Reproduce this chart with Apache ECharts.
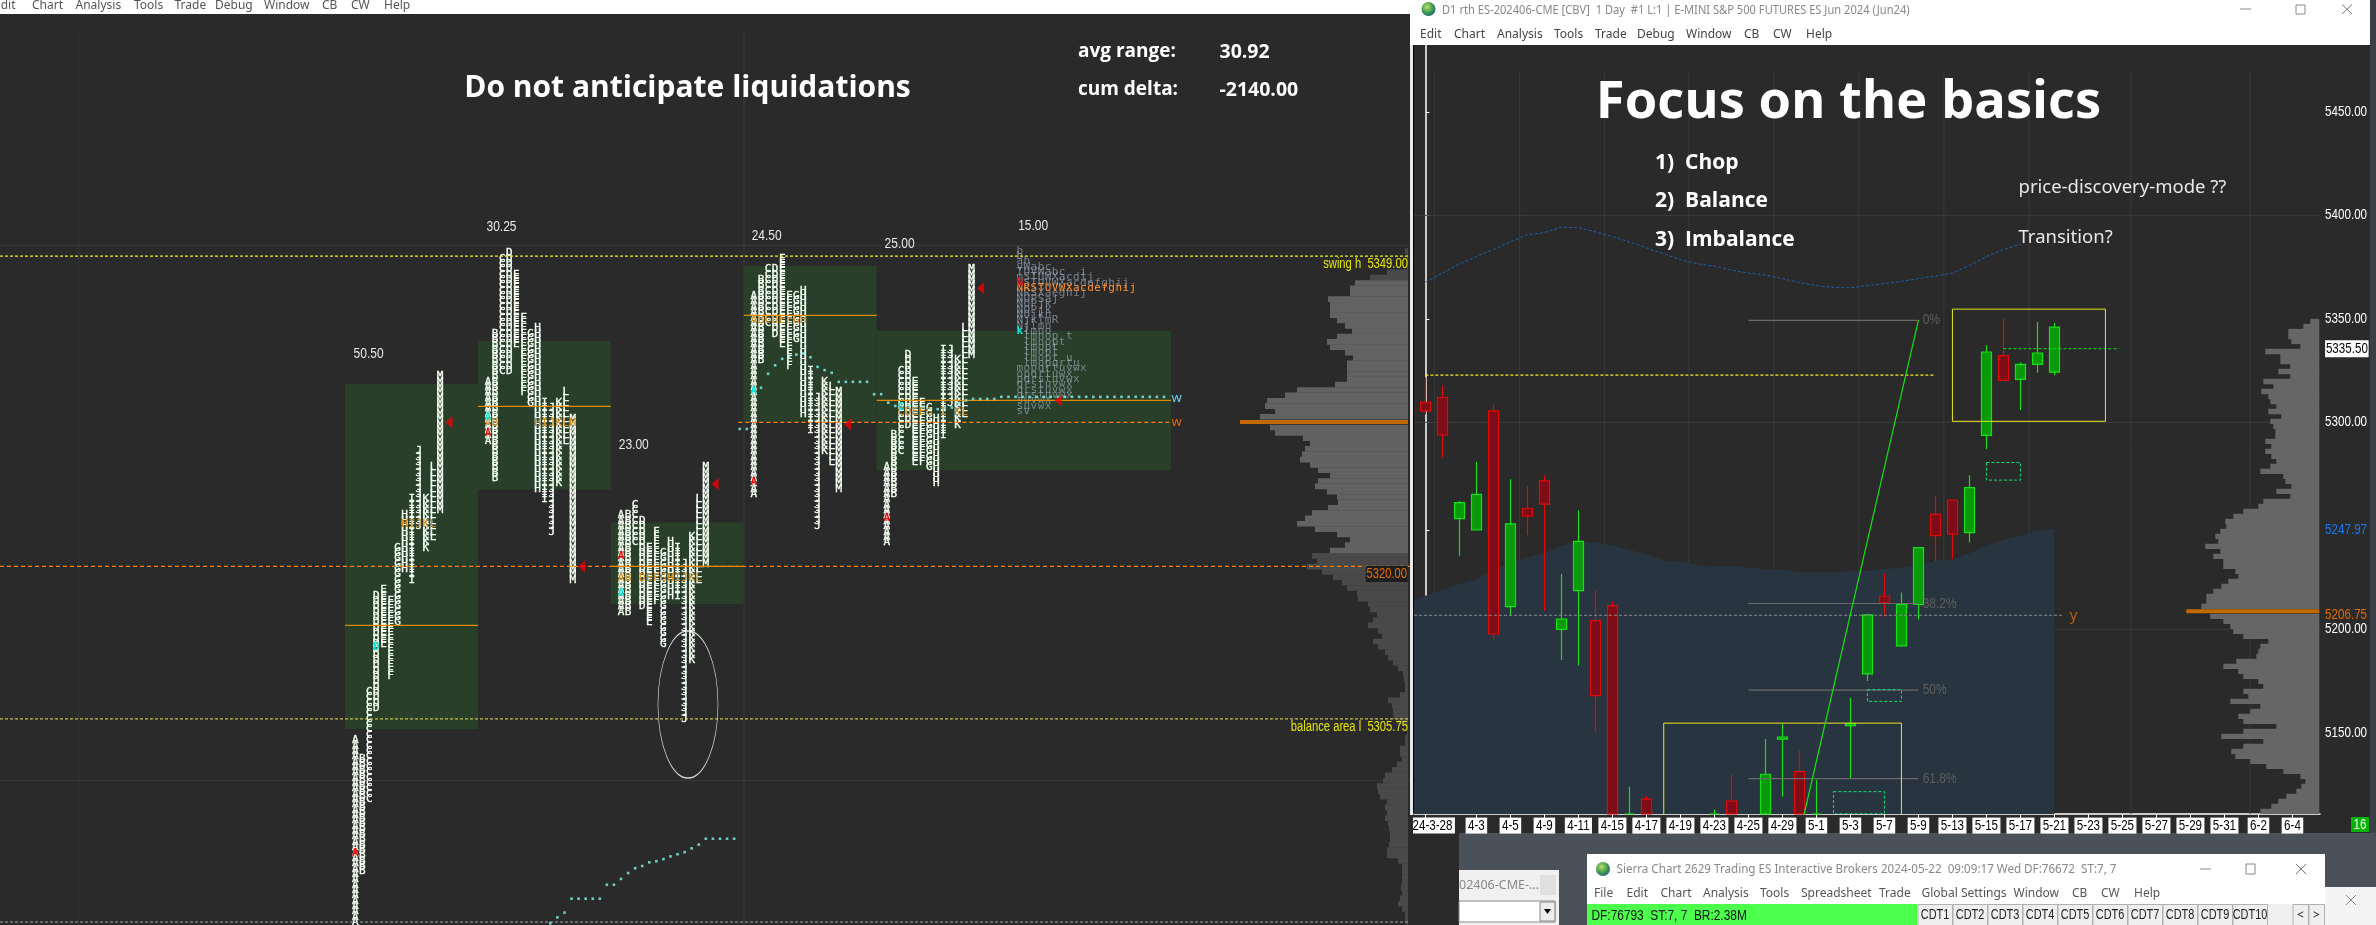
<!DOCTYPE html>
<html><head><meta charset="utf-8">
<style>html,body{margin:0;padding:0;background:#2a2a2a;overflow:hidden}#c{width:2376px;height:925px}</style>
<script src="https://cdn.jsdelivr.net/npm/echarts@6/dist/echarts.min.js"></script>
</head><body><div id="c"></div>
<script>
/* ---------- daily chart data ---------- */
const dayLabels=['24-3-28','4-1','4-2','4-3','4-4','4-5','4-8','4-9','4-10','4-11','4-12','4-15','4-16','4-17','4-18','4-19','4-22','4-23','4-24','4-25','4-26','4-29','4-30','5-1','5-2','5-3','5-6','5-7','5-8','5-9','5-10','5-13','5-14','5-15','5-16','5-17','5-20','5-21','5-22','5-23','5-24','5-25','5-26','5-27','5-28','5-29','5-30','5-31','6-1','6-2','6-3','6-4','6-5'];
const shownDayLabels=['24-3-28','4-3','4-5','4-9','4-11','4-15','4-17','4-19','4-23','4-25','4-29','5-1','5-3','5-7','5-9','5-13','5-15','5-17','5-21','5-23','5-25','5-27','5-29','5-31','6-2','6-4'];
const dayOpen=[5309.75,5312,5253.5,5248,5305.5,5211,5258.5,5271.75,5200,5218.75,5204.25,5211.5,5100,5118,5094,5088,5080,5088,5117,5098,5095,5147,5131.25,5104,5096,5153.5,5178.5,5216,5192,5212,5255.5,5262.5,5246.75,5293.75,5332.25,5320.75,5328,5324.25];
const dayClose=[5305.5,5294,5261.25,5265.25,5197.75,5251,5254.75,5260.5,5205,5242.5,5168,5096,5092,5098,5086,5079,5090,5100,5104,5092,5130,5148,5100,5096,5102,5154.5,5207,5212.75,5212,5239.5,5245.25,5246,5268.5,5334,5320.25,5328,5333.5,5346];
const dayLow=[5303.75,5283,5235.5,5248,5195,5206.75,5245.5,5209,5185.25,5182.5,5150.5,5090,5085,5090,5076,5070,5072,5082,5098,5084,5090,5119,5094,5090,5090,5128,5175,5206.25,5191.75,5204.75,5233,5234,5242,5287,5320.25,5306,5324,5322.75];
const dayHigh=[5321.75,5317.75,5262,5281,5308.5,5272.5,5269.25,5274.5,5226.75,5257.5,5219,5213.5,5124,5119.5,5102,5098,5104,5113,5130,5108,5147,5154.5,5141.5,5127.5,5108,5167,5207.5,5227,5217.75,5239.75,5264.5,5262.5,5274.5,5337.25,5350,5329,5348.5,5348];
const upperBand=[5367.8,5372.1,5376.6,5380.1,5383.5,5387.2,5390.6,5391.7,5394.3,5394,5392,5389.7,5387.2,5384.3,5381.5,5378.6,5376.6,5375.5,5373.5,5372.1,5371.2,5369.5,5367.5,5366.1,5365.2,5365,5366.1,5367,5368.1,5369.5,5370.7,5372.1,5375.8,5380.1,5383.5,5386];
const lowerBandStart=5214;
const lowerBand=[5216.2,5219.1,5221.9,5224.2,5229.1,5231.9,5234.8,5236.8,5240.5,5242.5,5241.9,5240.5,5238.5,5236.2,5233.3,5232.8,5231.1,5230.5,5230.5,5229.9,5229.1,5228.8,5227.6,5227.6,5227.6,5228.2,5228.2,5229.1,5229.9,5231.1,5233.3,5233.9,5236.8,5240.5,5243.3,5245.3,5247.6,5248.4];
const dayAxisPrices=[5150,5200,5300,5350,5400,5450];
const lastPrice=5335.5, bluePrice=5247.97, dayPocPrice=5206.75;
const fibLevels=[['0%',5349.3],['38.2%',5212.5],['50%',5170.6],['61.8%',5127.9]];
const dayVolume=[9,16,31,31,28,19,54,39,39,29,41,29,56,46,58,51,49,43,51,38,49,46,44,44,54,48,54,48,43,49,59,36,34,28,43,29,56,61,76,86,94,93,99,104,101,114,99,106,96,96,84,81,91,98,106,113,113,118,133,109,96,89,86,76,51,59,61,63,83,96,81,76,61,56,76,71,89,59,69,81,76,43,76,98,56,76,88,84,69,53,36,19,14,18,23,33,41,48,59,69];
const dayVolumeTop=5348.8, dayVolumeStep=2.415, dayVolumePocRow=58;
/* ---------- 30 minute profile data (range of each period, high then low) ---------- */
const tpoLetters='ABCDEFGHIJKLM';
const tpoDay1=[[5303.75,5286.75],[5302,5291.25],[5308.25,5298.25],[5317.25,5306.75],[5317.75,5312.75],[5316.75,5309.75],[5321.75,5314.75],[5324.75,5319.75],[5326.25,5318.75],[5330.75,5323.75],[5326.25,5321.75],[5329.25,5322.75],[5337.75,5325.25]];
const tpoDay2=[[5337.25,5331.75],[5341.75,5328.25],[5348.75,5338.25],[5349.25,5338.25],[5347.25,5340.75],[5343.25,5336.25],[5341.75,5335.25],[5342.25,5327.25],[5335.25,5326.25],[5334.75,5323.25],[5335.25,5327.75],[5336.25,5331.75],[5333.75,5318.75]];
const tpoDay3=[[5324.75,5315.75],[5324.75,5315.75],[5325.75,5322.25],[5324.25,5316.25],[5321.75,5314.75],[5323.25,5316.75],[5321.25,5312.75],[5322.25,5317.25],[5321.75,5317.25],[5320.25,5305.75],[5322.75,5311.25],[5326.25,5318.75],[5329.25,5320.25]];
const tpoDay4=[[5345.25,5326.75],[5346.75,5339.25],[5347.75,5342.75],[5347.75,5341.75],[5348.75,5340.75],[5345.25,5338.75],[5345.25,5341.25],[5345.75,5334.25],[5338.25,5332.75],[5335.75,5323.75],[5337.25,5330.75],[5336.75,5329.75],[5336.25,5327.25]];
const tpoDay5=[[5329.25,5322.25],[5332.25,5326.75],[5338.25,5330.75],[5339.75,5333.25],[5337.25,5329.75],[5335.25,5329.75],[5334.75,5329.25],[5333.75,5327.75],[5340.25,5332.25],[5340.25,5335.25],[5339.25,5333.25],[5342.25,5334.25],[5347.75,5339.75]];
const tpoDays=[tpoDay1,tpoDay2,tpoDay3,tpoDay4,tpoDay5];
const overnightRows=[[5349.5,'b'],[5349,'b'],[5348.5,'ab'],[5348,'vWabc'],[5347.5,'TUVWabc  i'],[5347,'mSTUWXacdij'],[5346.5,'NSTUVWXacdefghij'],[5345.5,'NRSXaeghij'],[5345,'NOPSaj'],[5344.5,'NOPjk'],[5344,'NOPjk'],[5343.5,'NOjkn'],[5343,'NjklmR'],[5342.5,'Njlmn'],[5342,' lmno'],[5341.5,' lmnop t'],[5341,' lmnopt'],[5340.5,' lmopt'],[5340,' lmopt'],[5339.5,' lmopt u'],[5339,' lmopqrtu'],[5338.5,'mopqrtuvwx'],[5338,'opqrtuwx'],[5337.5,'pqrstuvwx'],[5337,'qrstuvwx'],[5336.5,'qrstuvwx'],[5336,'qrstuvwx'],[5335.5,'suvwx'],[5335,'suvwx'],[5334.5,'sv']];
const overnightPocRow=[5346,'NRSTUVWXacdefghij'];
const pocRows=[[0,5323.95,'       HIJKL'],[1,5333.4,'AB     HIJKLM'],[2,5318.9,'AB DEFGHIJKL'],[3,5343,'ABCDEFGH'],[4,5334.45,'  CDEFG I KL']];
const redLetters=[[0,0,5293.25],[1,0,5332.5],[2,0,5321],[3,0,5327.9],[4,0,5324.5]];
const cyanLetters=[[0,3,5312.5],[1,0,5334],[2,0,5317.5],[3,0,5336.4],[4,2,5334.9]];
const valueAreas=[[5337.05,5304.8],[5341.08,5327.2],[5324.1,5316.5],[5348.07,5333.47],[5342,5329]];
const dayPocs=[5314.5,5334.96,5320,5343.47,5335.52];
const sessionRanges=[['50.50',1.9,5339.85],['30.25',20.7,5351.7],['23.00',39.4,5331.35],['24.50',58.2,5350.9],['25.00',77,5350.15],['15.00',95.9,5351.8]];
const reversalMarks=[[13.27,5333.47],[32.03,5320],[50.9,5327.7],[69.66,5333.3],[88.47,5346],[99.45,5335.5]];
const earlyVwapStart=27.6;
const earlyVwap=[5286.65,5287.2,5287.65,5288.95,5288.95,5288.95,5288.95,5288.95,5290.25,5290.25,5290.8,5291.35,5291.8,5292,5292.35,5292.45,5292.65,5292.9,5293.1,5293.3,5293.65,5294,5294.55,5294.55,5294.55,5294.55,5294.55];
const lateVwapStart=54.4;
const lateVwap=[5332.85,5332.85,null,5336.7,5338,5338.8,5339.4,5339.6,5339.8,5339.9,5339.55,5338.65,5338.35,5338.1,5337.25,5337.25,5337.25,5337.25,5337.25,5336.1,5336.1,5335.3,5335,5335,5335,5335,5334.95,5334.75,5334.7,5334.85,5334.85,5335.25,5335.55,5335.65,5335.65,5335.65,5335.65,5335.85,5335.85,5335.85,5335.85,5335.85,5335.85,5335.85,5335.85,5335.85,5335.85,5335.85,5335.85,5335.85,5335.85,5335.85,5335.85,5335.85,5335.85,5335.85,5335.85,5335.85,5335.85,5335.85,5335.85];
const swingHigh=5349, keyLevel=5320, balanceLow=5305.75, weeklyLevel=5333.47, weeklyTop=5335.75;
const profileVolume=[3,1,1,1,21,38,53,58,58,80,78,78,78,71,63,56,71,81,78,63,55,61,61,61,61,73,111,123,141,143,133,148,168,138,133,105,98,103,106,108,98,90,78,90,93,81,71,70,80,96,103,111,93,71,58,63,78,96,91,101,86,75,66,61,51,50,40,38,31,35,40,30,26,35,30,23,20,15,10,5,4,3,3,8,20,16,15,15,11,1,1,3,3,8,8,6,11,16,23,25,31,30,28,21,23,21,23,20,19,18,18,19,21,21,10,6,6,6,6,7,6,8,10,6,3,3,2];
const profileTop=5349.5, profileStep=0.5, profilePocRow=32;
const valueAreaHigh=5346.5, valueAreaLow=5321.5;

/* ---------- axis frames ---------- */
const LY=[5286.49,5371.63], DY=[5110.8,5482.3], SLOT=18.8;
const MONO='"DejaVu Sans Mono",monospace', NARROW='"Liberation Sans",sans-serif', UI='"Noto Sans",sans-serif', BOLD='"Open Sans","Noto Sans",sans-serif';
const SQ=0.8;
const grid=[
 {left:0,top:14,width:1410,height:911},
 {left:1416.9,top:45,width:901,height:769},
 {left:1414,top:45,width:906,height:769},
 {left:1238,top:14,width:170,height:911},
 {left:2180,top:45,width:139.3,height:769}];
const hidden={show:false};
const xAxis=[
 {type:'value',gridIndex:0,min:-50.24,max:149.2,...hidden,splitLine:{show:false}},
 {type:'category',gridIndex:1,data:dayLabels,boundaryGap:true,axisLine:{show:false},
  axisTick:{show:true,alignWithLabel:true,length:4,lineStyle:{color:'#fff'},interval:i=>shownDayLabels.includes(dayLabels[i])},
  axisLabel:{show:false},splitLine:{show:false}},
 {type:'value',gridIndex:2,min:-0.67,max:52.62,axisLine:{show:true,onZero:false,lineStyle:{color:'#fff',width:1.5}},axisTick:{show:false},axisLabel:{show:false},splitLine:{show:false}},
 {type:'value',gridIndex:3,min:0,max:170,inverse:true,...hidden,splitLine:{show:false}},
 {type:'value',gridIndex:4,min:0,max:139.3,inverse:true,...hidden,splitLine:{show:false}}];
const yAxis=[
 {type:'value',gridIndex:0,min:LY[0],max:LY[1],...hidden,splitLine:{show:false}},
 {type:'value',gridIndex:1,min:DY[0],max:DY[1],...hidden,splitLine:{show:false},scale:true},
 {type:'value',gridIndex:2,min:DY[0],max:DY[1],position:'right',axisLine:{show:true,lineStyle:{color:'#fff',width:1.5}},
  axisTick:{show:true,length:4,customValues:dayAxisPrices.concat([bluePrice]),lineStyle:{color:'#fff'}},splitLine:{show:false},
  axisLabel:{show:false}},
 {type:'value',gridIndex:3,min:LY[0],max:LY[1],...hidden,splitLine:{show:false}},
 {type:'value',gridIndex:4,min:DY[0],max:DY[1],...hidden,splitLine:{show:false}}];

/* ---------- series helpers ---------- */
const series=[];
function path(ax,name,pts,color,width,dash,z){series.push({name,type:'line',xAxisIndex:ax,yAxisIndex:ax,data:pts,symbol:'none',silent:true,animation:false,z,lineStyle:{color,width,type:dash||'solid'}});}
function rects(ax,name,items,style,z){series.push({name,type:'custom',xAxisIndex:ax,yAxisIndex:ax,clip:true,silent:true,animation:false,z,data:items,
 renderItem:(p,api)=>{const a=api.coord([api.value(0),api.value(2)]),b=api.coord([api.value(1),api.value(3)]);
  return {type:'rect',shape:{x:Math.min(a[0],b[0]),y:Math.min(a[1],b[1]),width:Math.abs(a[0]-b[0]),height:Math.abs(a[1]-b[1])},style};}});}
function texts(ax,name,items,style,z,sx){series.push({name,type:'custom',xAxisIndex:ax,yAxisIndex:ax,silent:true,animation:false,z,
 encode:{x:0,y:1},data:items,
 renderItem:(p,api)=>{const a=api.coord([api.value(0),api.value(1)]);
  return {type:'text',x:a[0],y:a[1],scaleX:sx||1,style:Object.assign({text:items[p.dataIndex][2]},style,{textVerticalAlign:'middle'})};}});}
function expand(rows){const out=[];rows.forEach(r=>[...r.txt].forEach((c,i)=>{if(c!==' ')out.push([r.x+i,r.p,c]);}));return out;}

/* left chart */
path(0,'grid50',[[-50.24,5350],[149.2,5350]],'#3b3b3b',1,null,1);
path(0,'grid0',[[-50.24,5300],[149.2,5300]],'#3b3b3b',1,null,1);
path(0,'vgrid1',[[-39.1,5286.49],[-39.1,5370.1]],'#373737',1,null,1);
path(0,'vgrid2',[[55,5286.49],[55,5370.1]],'#3a3a3a',1,null,1);
const areaEnds=[18.8,18.8,18.8,18.8,41.64];
rects(0,'valueArea',valueAreas.map((v,i)=>[i*SLOT-1.44,i*SLOT-1.44+areaEnds[i],v[0],v[1]]),{fill:'#293f29'},2);
const cells=[];
tpoDays.forEach((cols,d)=>cols.forEach((r,c)=>{for(let p=r[0];p>=r[1]-0.001;p-=0.5)cells.push([d*SLOT+c,p,tpoLetters[c]]);}));
texts(0,'tpo',cells,{font:'11px '+MONO,fill:'#fbfff0',stroke:'#d8f4ee',lineWidth:0.35,textAlign:'center'},4);
texts(0,'tpoPoc',expand(pocRows.map(r=>({x:r[0]*SLOT,p:r[1],txt:r[2]}))),{font:'11px '+MONO,fill:'#d68a16',textAlign:'center'},5);
texts(0,'tpoRed',redLetters.map(r=>[r[0]*SLOT+r[1],r[2],tpoLetters[r[1]]]),{font:'bold 11px '+MONO,fill:'#f01010',textAlign:'center'},6);
texts(0,'tpoCyan',cyanLetters.map(r=>[r[0]*SLOT+r[1],r[2],tpoLetters[r[1]]]),{font:'bold 11px '+MONO,fill:'#10e8d8',textAlign:'center'},6);
const on=overnightRows.map(r=>({x:5*SLOT,p:r[0],txt:r[1]}));
texts(0,'overnight',expand(on),{font:'11px '+MONO,fill:'rgba(165,180,200,0.62)',textAlign:'center'},4);
texts(0,'overnightPoc',expand([{x:5*SLOT,p:overnightPocRow[0],txt:overnightPocRow[1]}]),{font:'11px '+MONO,fill:'#ff9030',textAlign:'center'},5);
texts(0,'overnightMarks',[[5*SLOT,5346.5,'N']],{font:'bold 11px '+MONO,fill:'#f01010',textAlign:'center'},6);
texts(0,'overnightMarks2',[[5*SLOT,5342,'k']],{font:'bold 11px '+MONO,fill:'#10e8d8',textAlign:'center'},6);
dayPocs.forEach((p,i)=>path(0,'poc'+i,[[i*SLOT-1.44,p],[i*SLOT-1.44+areaEnds[i],p]],'#e08a00',1.2,null,7));
path(0,'swing',[[-50.24,swingHigh],[149.2,swingHigh]],'#eeee20',1.2,[3,2],7);
path(0,'key',[[-50.24,keyLevel],[149.2,keyLevel]],'#ff8000',1.2,[4,3],7);
path(0,'balance',[[-50.24,balanceLow],[149.2,balanceLow]],'#e8e850',1,[3,2],7);
path(0,'weekly',[[54.2,weeklyLevel],[115.4,weeklyLevel]],'#ff8000',1.2,[4,3],7);
path(0,'floor',[[-50.24,5286.77],[149.2,5286.77]],'#aaaaaa',1,[3,2],7);
const dots=earlyVwap.map((v,i)=>[earlyVwapStart+i,v]).concat(lateVwap.map((v,i)=>[lateVwapStart+i,v]).filter(d=>d[1]!==null));
series.push({name:'vwap',type:'scatter',xAxisIndex:0,yAxisIndex:0,data:dots,symbol:'rect',symbolSize:2.6,silent:true,animation:false,z:8,itemStyle:{color:'#7ff5ee'}});
series.push({name:'reversal',type:'scatter',xAxisIndex:0,yAxisIndex:0,data:reversalMarks,symbol:'triangle',symbolRotate:90,symbolSize:[12,7],silent:true,animation:false,z:8,itemStyle:{color:'#f00000'}});
series.push({name:'callout',type:'scatter',xAxisIndex:0,yAxisIndex:0,data:[[47.07,5307.1]],symbol:'circle',symbolSize:[60,147],silent:true,animation:false,z:9,itemStyle:{color:'rgba(0,0,0,0)',borderColor:'#fff',borderWidth:1}});
texts(0,'ranges',sessionRanges.map(r=>[r[1],r[2],r[0]]),{font:'15px '+NARROW,fill:'#e8e8e8',textAlign:'center'},9,SQ);
texts(0,'wCyan',[[116.2,weeklyTop,'w']],{font:'13px '+UI,fill:'#70d0f0',textAlign:'center'},9);
texts(0,'wOrange',[[116.2,weeklyLevel,'w']],{font:'13px '+UI,fill:'#e06a10',textAlign:'center'},9);
texts(0,'swingLabel',[[148.9,5348.26,'swing h  5349.00']],{font:'14px '+NARROW,fill:'#e6e600',textAlign:'right'},12,SQ);
texts(0,'keyLabel',[[148.9,5319.3,'5320.00']],{font:'14px '+NARROW,fill:'#e87000',textAlign:'right',backgroundColor:'#1e1e1e',padding:[1,1,1,1]},12,SQ);
texts(0,'balLabel',[[148.9,5305,'balance area l  5305.75']],{font:'14px '+NARROW,fill:'#e6e600',textAlign:'right'},12,SQ);

/* left profile */
function profile(ax,name,vols,top,step,pocRow,colorOf,z){series.push({name,type:'custom',xAxisIndex:ax,yAxisIndex:ax,clip:true,silent:true,animation:false,z,
 data:vols.map((v,i)=>[v,top-i*step,i]),
 renderItem:(p,api)=>{const v=api.value(0),y=api.value(1),i=api.value(2);const a=api.coord([0,y+step/2]),b=api.coord([v,y-step/2]);
  const poc=i===pocRow;const h=Math.abs(a[1]-b[1]);
  return {type:'rect',shape:{x:b[0],y:poc?(a[1]+b[1])/2-2:a[1],width:a[0]-b[0],height:poc?4:h+0.3},style:{fill:poc?'#c46a00':colorOf(y)},z2:poc?5:0};}});}
profile(3,'leftProfile',profileVolume,profileTop,profileStep,profilePocRow,y=>(y<=valueAreaHigh&&y>=valueAreaLow)?'#626262':'#494949',3);

/* daily chart */
[5200,5300,5400].forEach(p=>path(2,'hg'+p,[[-0.67,p],[52.62,p]],'#3d3d3d',1,null,1));
[0.54,5.54,10.54,15.5,20.5,25.5,30.5,35.5,41.5,48.5].forEach(x=>path(2,'vg'+x,[[x,DY[0]],[x,5470]],'#393939',1,null,1));
const band=[[-0.67,lowerBandStart]].concat(lowerBand.map((v,i)=>[i,v]));
series.push({name:'band',type:'line',xAxisIndex:2,yAxisIndex:2,data:band,symbol:'none',silent:true,animation:false,z:2,lineStyle:{width:0},areaStyle:{color:'#28343f',opacity:1,origin:'start'}});
const floorAt=v=>Math.max(v,DY[0]);
series.push({name:'daily',type:'candlestick',xAxisIndex:1,yAxisIndex:1,barWidth:10,silent:true,animation:false,z:4,
 data:dayOpen.map((o,i)=>dayHigh[i]<DY[0]?[o,dayClose[i],dayLow[i],dayHigh[i]]:[floorAt(o),floorAt(dayClose[i]),floorAt(dayLow[i]),dayHigh[i]]),
 itemStyle:{color:'#089a08',color0:'#7d0d18',borderColor:'#16e016',borderColor0:'#e00808',borderWidth:1.2}});
path(2,'upper',upperBand.map((v,i)=>[i,v]),'#1d5fa8',1,[3,2],5);
path(2,'yellowLevel',[[0,5322.8],[29.9,5322.8]],'#eeee20',1.2,[3,2],5);
path(2,'greenLevel',[[34,5335.6],[40.8,5335.6]],'#10e010',1,[3,2],5);
path(2,'yLevel',[[-0.67,5206.8],[37.5,5206.8]],'#8a8a8a',1,[3,2],5);
fibLevels.forEach(f=>path(2,'fib'+f[0],[[19,f[1]],[29,f[1]]],'#6a6a6a',1.2,null,5));
path(2,'swingLeg',[[22.28,5110.8],[29,5349.3]],'#14e014',1.2,null,6);
texts(2,'fibText',fibLevels.map(f=>[29.25,f[1],f[0]]),{font:'15px '+NARROW,fill:'#5e5e5e',textAlign:'left'},6,SQ);
texts(2,'yText',[[37.9,5206.8,'y']],{font:'15px '+UI,fill:'#b06010',textAlign:'left'},6);
rects(2,'boxes',[[31,40,5354.7,5300.5],[14.02,28,5154.7,5090]],{fill:'rgba(0,0,0,0)',stroke:'#e8e820',lineWidth:1},6);
rects(2,'gaps',[[33,35,5280.6,5272.1],[26,28,5170.9,5165.2],[24,27,5121.6,5110.9]],{fill:'rgba(0,0,0,0)',stroke:'#10e070',lineWidth:1,lineDash:[3,2]},6);
profile(4,'dayProfile',dayVolume,dayVolumeTop,dayVolumeStep,dayVolumePocRow,()=>'#666666',3);
/* right axis labels */
const AX=52.92, LAB='14.5px '+NARROW;
texts(2,'priceTicks',dayAxisPrices.map(p=>[AX,p,p.toFixed(2)]),{font:LAB,fill:'#ffffff',textAlign:'left'},10,SQ);
texts(2,'lastPriceLabel',[[AX,lastPrice,lastPrice.toFixed(2)]],{font:LAB,fill:'#000',backgroundColor:'#fff',padding:[1,1,1,1],textAlign:'left'},10,SQ);
texts(2,'blueLabel',[[AX,bluePrice,bluePrice.toFixed(2)]],{font:LAB,fill:'#1878f0',textAlign:'left'},10,SQ);
texts(2,'pocLabel',[[AX,dayPocPrice,dayPocPrice.toFixed(2)]],{font:LAB,fill:'#e06a00',textAlign:'left'},10,SQ);
/* date labels, centred on their own bar (first one is pushed in by the panel edge) */
const labelRowPrice=5105.2;
texts(2,'dateLabels',dayLabels.map((d,i)=>[i===0?0.42:i,labelRowPrice,d]).filter(r=>shownDayLabels.includes(r[2])),{font:LAB,fill:'#000',backgroundColor:'#fff',padding:[1,3,0,3],textAlign:'center'},10,SQ);

/* ---------- window chrome ---------- */
const g=[];
const box=(x,y,w,h,fill,z,stroke)=>g.push({type:'rect',shape:{x,y,width:w,height:h},style:{fill,stroke:stroke||null,lineWidth:1},z:z||0,silent:true});
const txt=(x,y,text,font,fill,align,z,sx)=>g.push({type:'text',x,y,scaleX:sx||1,style:{text,font,fill,textAlign:align||'left',textVerticalAlign:'middle'},z:z||1,silent:true});
const ln=(x1,y1,x2,y2,c,z)=>g.push({type:'line',shape:{x1,y1,x2,y2},style:{stroke:c,lineWidth:1},z:z||1,silent:true});
box(0,0,1410,14,'#ffffff');
[['Edit',-6],['Chart',32],['Analysis',75.5],['Tools',134],['Trade',174.5],['Debug',215],['Window',264],['CB',322],['CW',351],['Help',384]].forEach(m=>txt(m[1],6,m[0],'12px '+UI,'#555'));
box(1410,0,966,925,'#3c4046');
box(1410,0,960,45,'#ffffff');
box(1410,45,960,788,'#2a2a2a');
box(1410,45,3,788,'#e8e8e8');
box(1413,45,1,770,'#000000');
box(1410,833,966,92,'#4a5158');
box(1410,833,49,92,'#2a2a2a');
const globe=(x,y)=>{g.push({type:'circle',shape:{cx:x,cy:y,r:7},style:{fill:{type:'radial',x:0.4,y:0.35,r:0.7,colorStops:[{offset:0,color:'#b8e070'},{offset:0.6,color:'#3f9a4a'},{offset:1,color:'#20608a'}]}},z:1,silent:true});};
globe(1428.5,9);
txt(1442,10,'D1 rth ES-202406-CME [CBV]  1 Day  #1 L:1 | E-MINI S&P 500 FUTURES ES Jun 2024 (Jun24)','12.5px '+UI,'#888','left',1,0.89);
[['Edit',1420],['Chart',1454],['Analysis',1497],['Tools',1554],['Trade',1595],['Debug',1637],['Window',1686],['CB',1744],['CW',1773],['Help',1806]].forEach(m=>txt(m[1],35,m[0],'12px '+UI,'#444'));
ln(2240,9,2251,9,'#888');box(2296,5,9,9,'rgba(0,0,0,0)',1,'#888');ln(2342,4.5,2352,14,'#777');ln(2352,4.5,2342,14,'#777');
box(2351,817,18,15,'#00b400',2);txt(2360,825,'16',LAB,'#fff','center',3,SQ);
box(1408,815,5,20,'#2a2a2a',100);
/* chart captions */
txt(687.5,88.5,'Do not anticipate liquidations','bold 30px '+BOLD,'#fff','center',20);
txt(1078,52,'avg range:','bold 19px '+BOLD,'#fff','left',20);txt(1219.5,52,'30.92','bold 19.5px '+BOLD,'#fff','left',20);
txt(1078,90,'cum delta:','bold 19px '+BOLD,'#fff','left',20);txt(1219.5,90,'-2140.00','bold 19.5px '+BOLD,'#fff','left',20);
txt(1848.5,103,'Focus on the basics','bold 52.5px '+BOLD,'#fff','center',20);
txt(1655,163,'1)  Chop','bold 21px '+BOLD,'#fff','left',20);
txt(1655,201.5,'2)  Balance','bold 21px '+BOLD,'#fff','left',20);
txt(1655,240,'3)  Imbalance','bold 21px '+BOLD,'#fff','left',20);
txt(2018.5,187.5,'price-discovery-mode ??','18.5px '+UI,'#e8e8e8','left',20);
txt(2018.5,238,'Transition?','18.5px '+UI,'#e8e8e8','left',20);
/* lower windows */
box(1459,870,100,55,'#f0f0f0',1);
txt(1459,885,'02406-CME-...','12.5px '+UI,'#888','left',2);
box(1540,875,16,20,'#e0e0e0',2);
box(1459,901,96,21,'#fff',2,'#888');box(1540,902,15,19,'#eee',3,'#888');
g.push({type:'polygon',shape:{points:[[1544,909],[1551,909],[1547.5,914]]},style:{fill:'#000'},z:4,silent:true});
box(2325,887,51,38,'#f4f4f4',1);ln(2346,895,2356,905,'#888',2);ln(2356,895,2346,905,'#888',2);
box(1587,854,738,71,'#ffffff',2);
globe(1603,869);g[g.length-1].z=3;
txt(1616.5,869,'Sierra Chart 2629 Trading ES Interactive Brokers 2024-05-22  09:09:17 Wed DF:76672  ST:7, 7','12.5px '+UI,'#888','left',3,0.93);
[['File',1594],['Edit',1626.5],['Chart',1660.5],['Analysis',1703],['Tools',1760],['Spreadsheet',1801],['Trade',1879],['Global Settings',1921.5],['Window',2013.5],['CB',2072],['CW',2101],['Help',2134]].forEach(m=>txt(m[1],894,m[0],'12px '+UI,'#555','left',3));
ln(2200,869,2211,869,'#888',3);box(2246,864,9,10,'rgba(0,0,0,0)',3,'#888');ln(2296,864,2306,874,'#777',3);ln(2306,864,2296,874,'#777',3);
box(1587,904,738,21,'#f0f0f0',3);
box(1587,904,330,21,'#4cff4c',4);
txt(1591.5,915.5,'DF:76793  ST:7, 7  BR:2.38M','14.5px '+NARROW,'#111','left',5,0.82);
for(let i=0;i<10;i++){const x=1918+i*35;box(x,904.5,34.5,21,'#efefef',4,'#b0b0b0');txt(x+17,915.5,'CDT'+(i+1),'14px '+NARROW,'#222','center',5,0.78);}
box(2293,904.5,15.5,21,'#efefef',4,'#b0b0b0');box(2309,904.5,15.5,21,'#efefef',4,'#b0b0b0');
txt(2300.5,915.5,'<','12px '+UI,'#222','center',5);txt(2316.5,915.5,'>','12px '+UI,'#222','center',5);

const chart=echarts.init(document.getElementById('c'),null,{width:2376,height:925,renderer:'canvas'});
chart.setOption({backgroundColor:'#2a2a2a',animation:false,grid,xAxis,yAxis,series,graphic:{elements:g},tooltip:{show:false}});
</script></body></html>
